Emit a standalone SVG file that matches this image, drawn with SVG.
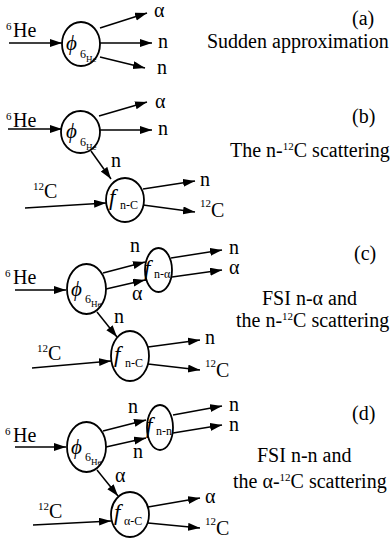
<svg xmlns="http://www.w3.org/2000/svg" width="391" height="539" viewBox="0 0 391 539" font-family="'Liberation Serif','Times New Roman',serif">
<style>
text{font-family:"Liberation Serif","Times New Roman",serif;fill:#000}
.t{font-size:20px}
.sup{font-size:11px}
.sym{font-size:23px;font-style:italic}
.phi{font-size:21px;font-style:italic}
.sub{font-size:12px}
.sub2{font-size:9px}
.nd{fill:#fff;stroke:#000;stroke-width:1.8}
.c{stroke:#000;stroke-width:1.5;fill:none;marker-end:url(#ah)}
</style>
<defs>
<marker id="ah" markerUnits="userSpaceOnUse" markerWidth="13" markerHeight="9" refX="12" refY="4" orient="auto">
<path d="M0,0 L12,4 L0,8 z" fill="#000"/>
</marker>
</defs>
<rect width="391" height="539" fill="#fff"/>

<g id="connectors">
<!-- a -->
<line class="c" x1="9" y1="43" x2="62" y2="43"/>
<line class="c" x1="100" y1="28" x2="147" y2="13"/>
<line class="c" x1="100" y1="43" x2="152" y2="43"/>
<line class="c" x1="100" y1="57" x2="145" y2="68"/>
<!-- b -->
<line class="c" x1="8" y1="129" x2="62" y2="129"/>
<line class="c" x1="99" y1="116" x2="147" y2="102"/>
<line class="c" x1="100" y1="130" x2="152" y2="130"/>
<line class="c" x1="91" y1="151" x2="111" y2="179"/>
<line class="c" x1="25" y1="208" x2="106" y2="203"/>
<line class="c" x1="143" y1="189" x2="195" y2="181"/>
<line class="c" x1="143" y1="205" x2="195" y2="212"/>
<!-- c -->
<line class="c" x1="15" y1="290" x2="66" y2="290"/>
<line class="c" x1="103" y1="273" x2="145" y2="262"/>
<line class="c" x1="106" y1="289" x2="145" y2="280"/>
<line class="c" x1="171" y1="258" x2="222" y2="250"/>
<line class="c" x1="172" y1="277" x2="222" y2="270"/>
<line class="c" x1="97" y1="312" x2="117" y2="337"/>
<line class="c" x1="32" y1="368" x2="111" y2="361"/>
<line class="c" x1="148" y1="347" x2="200" y2="340"/>
<line class="c" x1="148" y1="364" x2="200" y2="370"/>
<!-- d -->
<line class="c" x1="15" y1="447" x2="66" y2="447"/>
<line class="c" x1="103" y1="431" x2="146" y2="420"/>
<line class="c" x1="106" y1="447" x2="146" y2="438"/>
<line class="c" x1="173" y1="415" x2="222" y2="406"/>
<line class="c" x1="173" y1="433" x2="222" y2="425"/>
<line class="c" x1="97" y1="470" x2="118" y2="496"/>
<line class="c" x1="33" y1="525" x2="111" y2="521"/>
<line class="c" x1="148" y1="507" x2="200" y2="498"/>
<line class="c" x1="148" y1="523" x2="200" y2="528"/>
</g>

<!-- Panel a -->
<g id="a-he6"><text class="sup" x="6" y="30">6</text><text class="t" x="13" y="37">He</text></g>
<g id="a-phi">
<ellipse class="nd" cx="81" cy="44" rx="19" ry="22"/>
<text class="phi" x="66" y="50">ϕ</text><text class="sub" x="80" y="58">6</text><text class="sub2" x="86" y="62">He</text>
</g>
<g id="a-out"><text class="t" x="154" y="17">α</text><text class="t" x="158" y="48">n</text><text class="t" x="157" y="74">n</text></g>
<g id="a-caption"><text class="t" x="352" y="25">(a)</text><text class="t" x="207" y="48">Sudden approximation</text></g>

<!-- Panel b -->
<g id="b-he6"><text class="sup" x="6" y="120">6</text><text class="t" x="13" y="127">He</text></g>
<g id="b-phi">
<ellipse class="nd" cx="80.5" cy="132" rx="19.5" ry="21"/>
<text class="phi" x="66" y="138">ϕ</text><text class="sub" x="80" y="146">6</text><text class="sub2" x="86" y="150">He</text>
</g>
<g id="b-out"><text class="t" x="155" y="108">α</text><text class="t" x="158" y="135">n</text><text class="t" x="111" y="167">n</text></g>
<g id="b-c12"><text class="sup" x="33" y="190">12</text><text class="t" x="44" y="198">C</text></g>
<g id="b-fnc">
<ellipse class="nd" cx="125" cy="200" rx="19" ry="22"/>
<text class="sym" x="109" y="205">f</text><text class="sub" x="120" y="209">n-C</text>
</g>
<g id="b-fout"><text class="t" x="200" y="186">n</text><text class="sup" x="200" y="207">12</text><text class="t" x="211" y="217">C</text></g>
<g id="b-caption"><text class="t" x="352" y="123">(b)</text><text x="230" y="157"><tspan class="t">The n-</tspan><tspan class="sup" dy="-7">12</tspan><tspan class="t" dy="7">C scattering</tspan></text></g>

<!-- Panel c -->
<g id="c-he6"><text class="sup" x="5" y="277">6</text><text class="t" x="13" y="284">He</text></g>
<g id="c-phi">
<ellipse class="nd" cx="86.5" cy="289" rx="19.5" ry="25"/>
<text class="phi" x="71" y="296">ϕ</text><text class="sub" x="85" y="303">6</text><text class="sub2" x="91" y="307">He</text>
</g>
<g id="c-mid"><text class="t" x="130" y="252">n</text><text class="t" x="132" y="300">α</text><text class="t" x="114" y="323">n</text></g>
<g id="c-fna">
<ellipse class="nd" cx="158.5" cy="270" rx="13.5" ry="22"/>
<text class="sym" x="144" y="276">f</text><text class="sub" x="154" y="278">n-α</text>
</g>
<g id="c-fnaout"><text class="t" x="229" y="254">n</text><text class="t" x="229" y="274">α</text></g>
<g id="c-c12"><text class="sup" x="37" y="352">12</text><text class="t" x="48" y="360">C</text></g>
<g id="c-fnc">
<ellipse class="nd" cx="130" cy="356" rx="19" ry="25"/>
<text class="sym" x="114" y="362">f</text><text class="sub" x="125" y="367">n-C</text>
</g>
<g id="c-fout"><text class="t" x="205" y="344">n</text><text class="sup" x="205" y="367">12</text><text class="t" x="216" y="377">C</text></g>
<g id="c-caption"><text class="t" x="354" y="260">(c)</text>
<text class="t" x="262" y="305">FSI n-α and</text>
<text x="236" y="327"><tspan class="t">the n-</tspan><tspan class="sup" dy="-7">12</tspan><tspan class="t" dy="7">C scattering</tspan></text></g>

<!-- Panel d -->
<g id="d-he6"><text class="sup" x="5" y="435">6</text><text class="t" x="13" y="442">He</text></g>
<g id="d-phi">
<ellipse class="nd" cx="86.5" cy="447" rx="19.5" ry="25"/>
<text class="phi" x="71" y="454">ϕ</text><text class="sub" x="85" y="461">6</text><text class="sub2" x="91" y="465">He</text>
</g>
<g id="d-mid"><text class="t" x="128" y="413">n</text><text class="t" x="133" y="458">n</text><text class="t" x="115" y="482">α</text></g>
<g id="d-fnn">
<ellipse class="nd" cx="160" cy="427.5" rx="13" ry="22.5"/>
<text class="sym" x="146" y="433">f</text><text class="sub" x="156" y="435">n-n</text>
</g>
<g id="d-fnnout"><text class="t" x="229" y="411">n</text><text class="t" x="229" y="431">n</text></g>
<g id="d-c12"><text class="sup" x="38" y="510">12</text><text class="t" x="49" y="518">C</text></g>
<g id="d-fac">
<ellipse class="nd" cx="130" cy="514.5" rx="19" ry="22.5"/>
<text class="sym" x="114" y="520">f</text><text class="sub" x="124" y="525">α-C</text>
</g>
<g id="d-fout"><text class="t" x="205" y="503">α</text><text class="sup" x="205" y="525">12</text><text class="t" x="216" y="535">C</text></g>
<g id="d-caption"><text class="t" x="352" y="420">(d)</text>
<text class="t" x="257" y="462">FSI n-n and</text>
<text x="233" y="488"><tspan class="t">the α-</tspan><tspan class="sup" dy="-7">12</tspan><tspan class="t" dy="7">C scattering</tspan></text></g>
</svg>
